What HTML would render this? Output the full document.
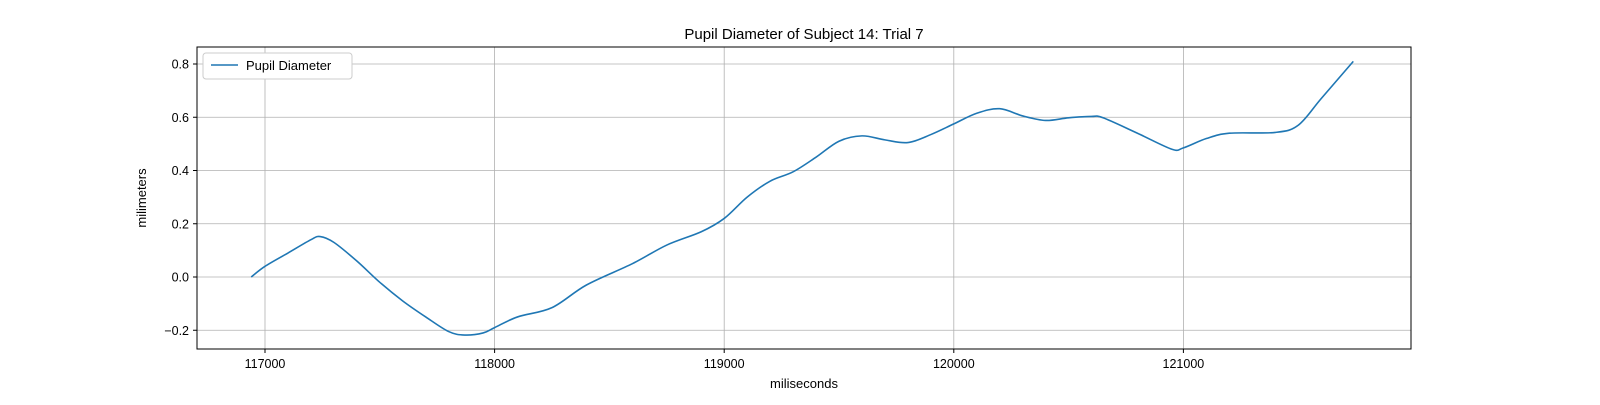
<!DOCTYPE html>
<html><head><meta charset="utf-8"><style>
body{margin:0;background:#fff;}
svg text{font-family:"Liberation Sans","DejaVu Sans",sans-serif;}
</style></head><body>
<svg id="chart" width="1600" height="400" xmlns="http://www.w3.org/2000/svg">
<rect width="1600" height="400" fill="#fff"/>
<g id="grid"></g>
<g id="ticks"></g>
<path id="line" fill="none" stroke="#1f77b4" stroke-width="1.6"/>
<rect x="197" y="47" width="1214" height="302" fill="none" stroke="#000" stroke-width="1"/>
<text x="804" y="39" font-size="15" text-anchor="middle">Pupil Diameter of Subject 14: Trial 7</text>
<text x="804" y="388" font-size="13" text-anchor="middle">miliseconds</text>
<text transform="translate(146,198) rotate(-90)" font-size="13" text-anchor="middle">milimeters</text>
<g>
<rect x="203" y="53" width="149" height="26" rx="3" fill="#fff" stroke="#ccc"/>
<line x1="211" y1="65" x2="238" y2="65" stroke="#1f77b4" stroke-width="1.6"/>
<text x="246" y="70" font-size="13">Pupil Diameter</text>
</g>
</svg>
<script>
const xTicks=[117000,118000,119000,120000,121000];
const yTicks=[-0.2,0.0,0.2,0.4,0.6,0.8];
const xs=[116940,117000,117100,117200,117240,117300,117400,117500,117600,117700,117800,117870,117950,118000,118100,118250,118400,118600,118750,118900,119000,119100,119200,119300,119400,119500,119600,119700,119800,119900,120000,120100,120200,120300,120400,120500,120600,120650,120800,120950,121000,121100,121200,121400,121500,121600,121740];
const ys=[0.0,0.04,0.09,0.14,0.152,0.13,0.06,-0.02,-0.09,-0.15,-0.205,-0.218,-0.21,-0.19,-0.15,-0.115,-0.03,0.05,0.12,0.17,0.22,0.3,0.36,0.395,0.45,0.51,0.53,0.515,0.505,0.535,0.575,0.615,0.632,0.605,0.588,0.598,0.603,0.598,0.54,0.48,0.485,0.52,0.54,0.543,0.57,0.67,0.81];
const X=v=>265+(v-117000)*0.2296;
const Y=v=>277-v*266.25;
const ns="http://www.w3.org/2000/svg";
const grid=document.getElementById('grid'),ticks=document.getElementById('ticks');
function mk(tag,a,p){const e=document.createElementNS(ns,tag);for(const k in a)e.setAttribute(k,a[k]);p.appendChild(e);return e;}
xTicks.forEach(t=>{const x=X(t);
const g=mk('line',{x1:x,x2:x,y1:47,y2:349,stroke:'#b0b0b0','stroke-width':0.8},grid);


mk('line',{x1:x,x2:x,y1:349,y2:353,stroke:'#000'},ticks);
const l=mk('text',{x:x,y:368,'font-size':12.5,'text-anchor':'middle'},ticks);l.textContent=t;

});
yTicks.forEach(t=>{const y=Y(t);
const g=mk('line',{x1:197,x2:1411,y1:y,y2:y,stroke:'#b0b0b0','stroke-width':0.8},grid);


mk('line',{x1:193,x2:197,y1:y,y2:y,stroke:'#000'},ticks);
const l=mk('text',{x:189,y:y+4.5,'font-size':12.5,'text-anchor':'end'},ticks);l.textContent=(t<0?'\u22120.':'0.')+Math.round(Math.abs(t)*10);

});
const P=xs.map((v,i)=>[X(v),Y(ys[i])]);
let d='M'+P[0][0]+','+P[0][1];
for(let i=0;i<P.length-1;i++){const p0=P[Math.max(0,i-1)],p1=P[i],p2=P[i+1],p3=P[Math.min(P.length-1,i+2)];
d+=' C'+(p1[0]+(p2[0]-p0[0])/6)+','+(p1[1]+(p2[1]-p0[1])/6)+' '+(p2[0]-(p3[0]-p1[0])/6)+','+(p2[1]-(p3[1]-p1[1])/6)+' '+p2[0]+','+p2[1];}
document.getElementById('line').setAttribute('d',d);
</script>
</body></html>
